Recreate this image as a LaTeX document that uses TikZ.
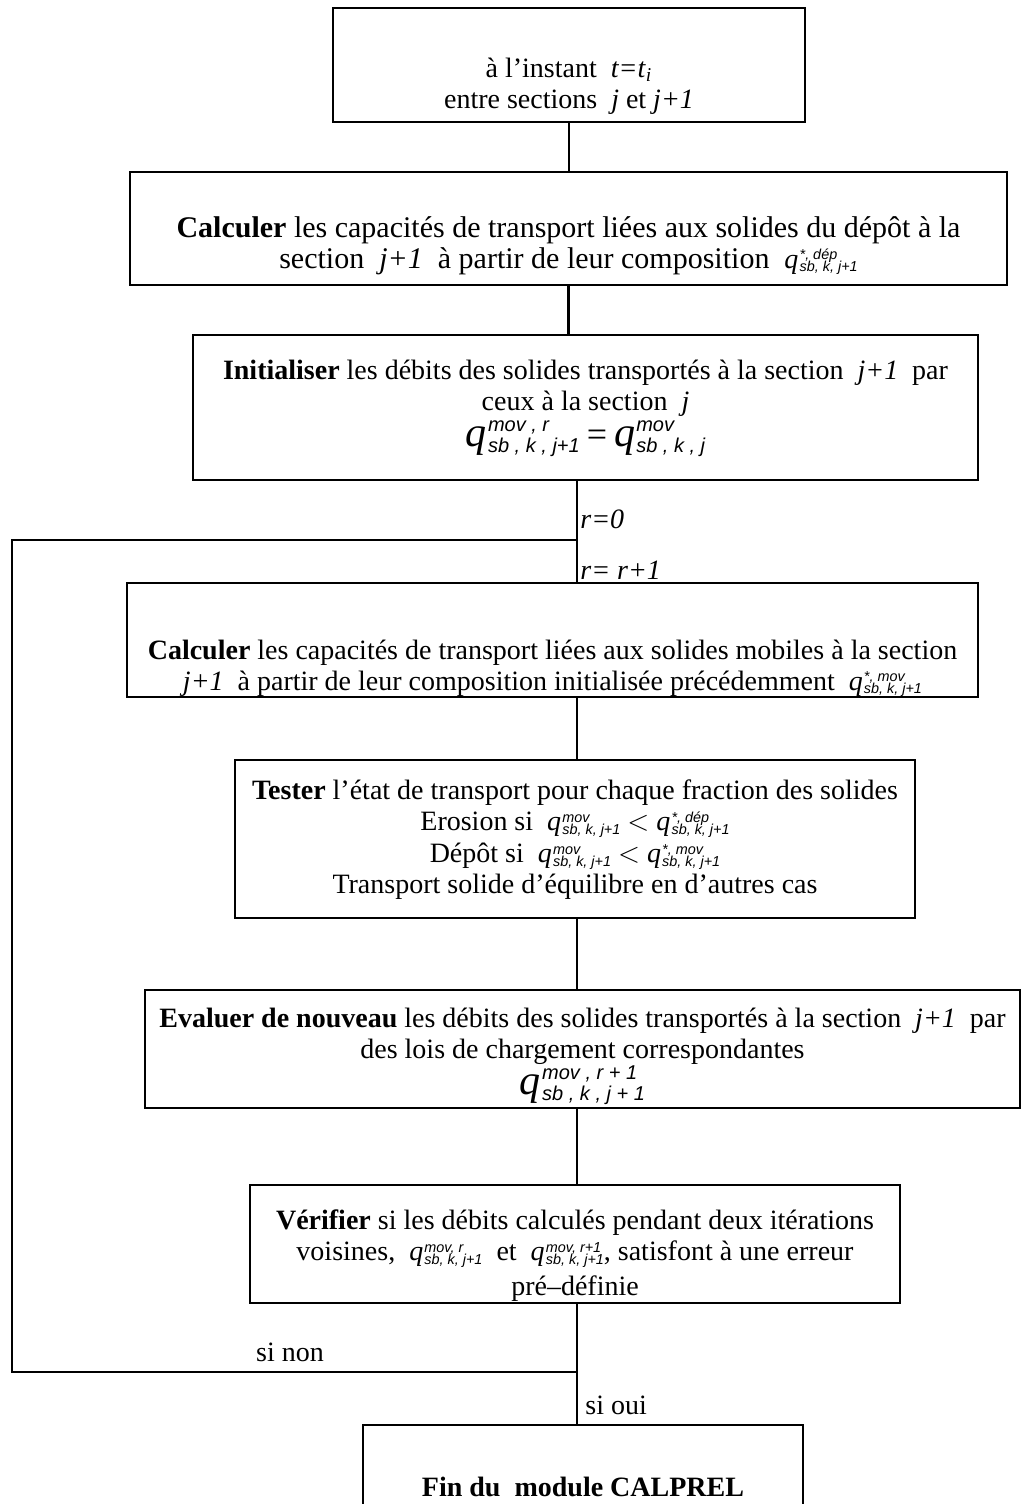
\documentclass[tikz,border=0pt]{standalone}
\usepackage{fontspec}
\setmainfont{Liberation Serif}
\newfontfamily\scrfont{Liberation Sans}
% q with stacked super/subscripts: #1 q size, #2 script size, #3 raise, #4 lower, #5 sup, #6 sub
\newcommand{\QQgen}[6]{\mbox{{\fontsize{#1}{#1}\selectfont\itshape q}\kern0.6pt{\fontsize{#2}{#2}\selectfont\scrfont\itshape
  \setbox0\hbox{\raise #3\hbox{#5}}\setbox2\hbox{\lower #4\hbox{#6}}%
  \ifdim\wd0>\wd2 \rlap{\box2}\box0 \else \rlap{\box0}\box2 \fi}}}
\newcommand{\QQ}[2]{\QQgen{14pt}{7.2pt}{4.3pt}{1.7pt}{#1}{#2}}
\newcommand{\QQbig}[2]{\QQgen{21pt}{10pt}{7.2pt}{3pt}{#1}{#2}}
\newcommand{\tightls}{\lineskiplimit -50pt\relax}
\newcommand{\fnorm}{\fontsize{14}{15.5}\selectfont\tightls}
\newcommand{\fbig}{\fontsize{15}{15.5}\selectfont\tightls}
\begin{document}
\begin{tikzpicture}[x=0.5pt,y=-0.5pt,
  box/.style={draw, line width=1.3pt, inner sep=0pt},
  txt/.style={align=center, inner sep=0pt, font=\fnorm},
  bigtxt/.style={align=center, inner sep=0pt, font=\fbig},
  lbl/.style={inner sep=0pt, font=\fnorm},
  conn/.style={line width=1.1pt}]
\clip (0,0) rectangle (1024,1504);
% boxes
\node[box, minimum width=236pt, minimum height=57pt] (b1) at (569,65) {};
\node[box, minimum width=438.5pt, minimum height=56.5pt] (b2) at (568.5,228.5) {};
\node[box, minimum width=392.5pt, minimum height=72.5pt] (b3) at (585.5,407.5) {};
\node[box, minimum width=425.5pt, minimum height=57pt] (b4) at (552.5,640) {};
\node[box, minimum width=340pt, minimum height=79pt] (b5) at (575,839) {};
\node[box, minimum width=437.5pt, minimum height=59pt] (b6) at (582.5,1049) {};
\node[box, minimum width=325pt, minimum height=59pt] (b7) at (575,1244) {};
\node[box, minimum width=220pt, minimum height=67.5pt] (b8) at (583,1492.5) {};
% texts
\node[txt] (t1) at (569,86) {à l'instant \ \textit{t=t}\textsubscript{\textit{i}}\\ entre sections \ \textit{j} et \textit{j+1}};
\node[bigtxt] (t2) at (568.5,245.5) {\textbf{Calculer} les capacités de transport liées aux solides du dépôt à la\\ section \ \textit{j+1} \ à partir de leur composition \ \QQ{*, dép}{sb, k, j+1}};
\node[txt] (t3) at (585.5,408) {\textbf{Initialiser} les débits des solides transportés à la section \ \textit{j+1} \ par\\ ceux à la section \ \textit{j}\\[2.5pt] \QQbig{mov , r}{sb , k , j+1} {\fontsize{18}{18}\selectfont =} \QQbig{mov}{sb , k , j}};
\node[txt] (t4) at (552.5,668) {\textbf{Calculer} les capacités de transport liées aux solides mobiles à la section\\ \textit{j+1} \ à partir de leur composition initialisée précédemment \ \QQ{*, mov}{sb, k, j+1}};
\node[txt] (t5) at (575,840) {\textbf{Tester} l'état de transport pour chaque fraction des solides\\ Erosion si \ \QQ{mov}{sb, k, j+1} $<$ \QQ{*, dép}{sb, k, j+1}\\[0.5pt] Dépôt si \ \QQ{mov}{sb, k, j+1} $<$ \QQ{*, mov}{sb, k, j+1}\\ Transport solide d'équilibre en d'autres cas};
\node[txt] (t6) at (582.5,1056) {\textbf{Evaluer de nouveau} les débits des solides transportés à la section \ \textit{j+1} \ par\\ des lois de chargement correspondantes\\[2.5pt] \QQbig{mov , r + 1}{sb , k , j + 1}};
\node[txt] (t7) at (575,1256) {\textbf{Vérifier} si les débits calculés pendant deux itérations\\ voisines, \ \QQ{mov, r}{sb, k, j+1} \ et \ \QQ{mov, r+1}{sb, k, j+1}, satisfont à une erreur\\[2pt] pré–définie};
\node[txt] (t8) at (583,1487) {\textbf{Fin du \ module CALPREL}};
% connectors
\coordinate (tr) at (577,0);
\draw[conn] (b1.south) -- (b1.south |- b2.north);
\draw[conn] (b2.south) -- (b2.south |- b3.north);
\draw[conn] (b3.south -| tr) -- (b4.north -| tr);
\draw[conn] (b4.south -| tr) -- (b5.north -| tr);
\draw[conn] (b5.south -| tr) -- (b6.north -| tr);
\draw[conn] (b6.south -| tr) -- (b7.north -| tr);
\draw[conn] (b7.south -| tr) -- (b8.north -| tr);
% loop
\coordinate (j0) at (577,540);
\coordinate (j1) at (577,1372);
\coordinate (l0) at (12,540);
\draw[conn] (j0) -- (l0) |- (j1);
% labels
\node[lbl, anchor=west] (r0) at (580,519) {\textit{r=0}};
\node[lbl, anchor=west] (r1) at (580,570) {\textit{r= r+1}};
\node[lbl] (sn) at (290,1352) {si non};
\node[lbl, anchor=west] (so) at (585,1405) {si oui};
\end{tikzpicture}
\end{document}
